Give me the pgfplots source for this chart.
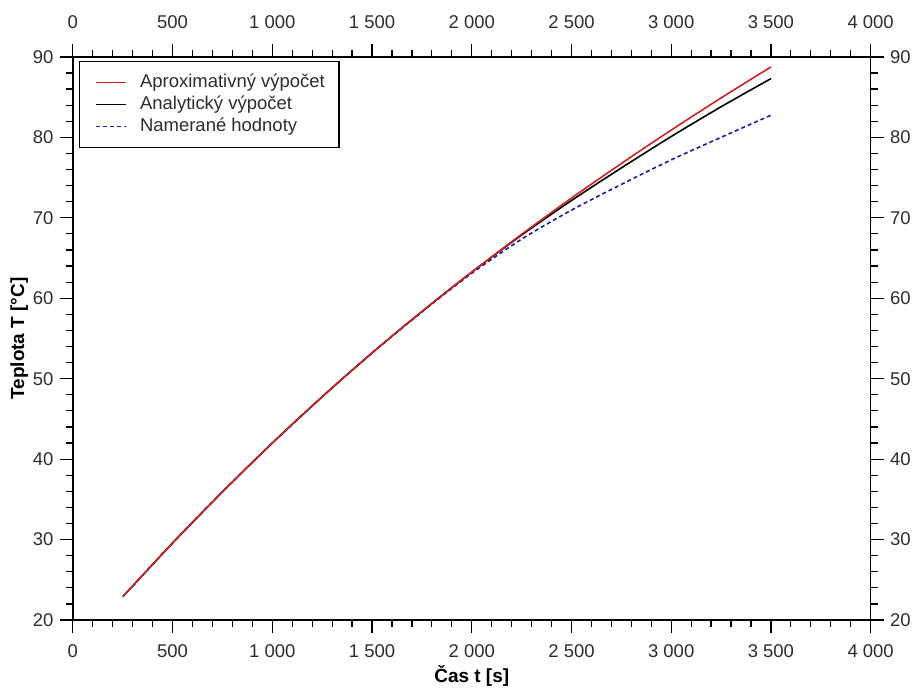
\documentclass[border=0pt]{standalone}
\usepackage{pgfplots}
\pgfplotsset{compat=1.18}
\usepackage{fontspec}
\setmainfont{Liberation Sans}

\definecolor{cred}{RGB}{205,35,35}
\definecolor{cblue}{RGB}{25,25,165}
\definecolor{ctick}{RGB}{45,45,45}

\pgfplotsset{
  common/.style={
    scale only axis, width=799pt, height=564pt,
    xmin=0, xmax=4000, ymin=20, ymax=90,
    xtick distance=500, ytick distance=10,
    minor x tick num=4, minor y tick num=4,
    tick align=outside,
    major tick length=13pt, minor tick length=7pt,
    every tick/.style={black, line width=1.2pt},
    axis line style={line width=1.4pt},
    scaled x ticks=false, scaled y ticks=false,
    /pgf/number format/assume math mode=true,
    /pgf/number format/1000 sep={\ },
    tick label style={font=\fontsize{18.5}{22}\selectfont, text=ctick},
  }
}

\begin{document}
\begin{tikzpicture}
\begin{axis}[common,
  xtick pos=bottom, ytick pos=left,
  xticklabel shift=8pt, yticklabel shift=3pt,
  xlabel={\textbf{Čas t [s]}},
  ylabel={\textbf{Teplota T [°C]}},
  xlabel shift=1pt, ylabel shift=-2pt,
  label style={font=\fontsize{19}{22}\selectfont},
  reverse legend,
  legend cell align=left,
  legend style={at={(0.0075,0.993)}, anchor=north west, draw=black, line width=1.4pt,
    font=\fontsize{18.5}{22}\selectfont, text=ctick, inner xsep=12pt, inner ysep=10pt,
    row sep=0pt, column sep=11pt,
    nodes={text height=14pt, text depth=4pt, inner sep=2pt}},
  legend image code/.code={\path (0pt,0pt); \draw[#1] (4pt,0pt) -- (34pt,0pt);},
]
\addplot[cblue, line width=1.6pt, dash pattern=on 4pt off 3pt, smooth] table {
t T
300 24.2
500 29.6
750 35.95
1000 42.0
1250 47.75
1500 53.2
1750 58.3
2000 63.1
2250 67.35
2500 70.95
2750 74.15
3000 77.2
3250 80.0
3500 82.75
};
\addlegendentry{Namerané hodnoty}
\addplot[black, line width=1.6pt, smooth] table {
t T
250 22.9
500 29.57
750 35.93
1000 42.00
1250 47.75
1500 53.20
1750 58.35
2000 63.25
2250 67.85
2500 72.15
2750 76.2
3000 80.1
3250 83.8
3500 87.3
};
\addlegendentry{Analytický výpočet}
\addplot[cred, line width=1.6pt, smooth] table {
t T
250 22.9
500 29.57
750 35.93
1000 42.00
1250 47.75
1500 53.20
1750 58.35
2000 63.25
2250 67.95
2500 72.45
2750 76.75
3000 80.90
3250 84.90
3500 88.75
};
\addlegendentry{Aproximativný výpočet}
\end{axis}
\begin{axis}[common,
  xtick pos=top, ytick pos=right,
  xticklabel pos=top, yticklabel pos=right,
  xticklabel shift=11.5pt, yticklabel shift=3pt,
]
\end{axis}
\path (-73pt,-69pt) rectangle (841pt,621pt);
\end{tikzpicture}
\end{document}
